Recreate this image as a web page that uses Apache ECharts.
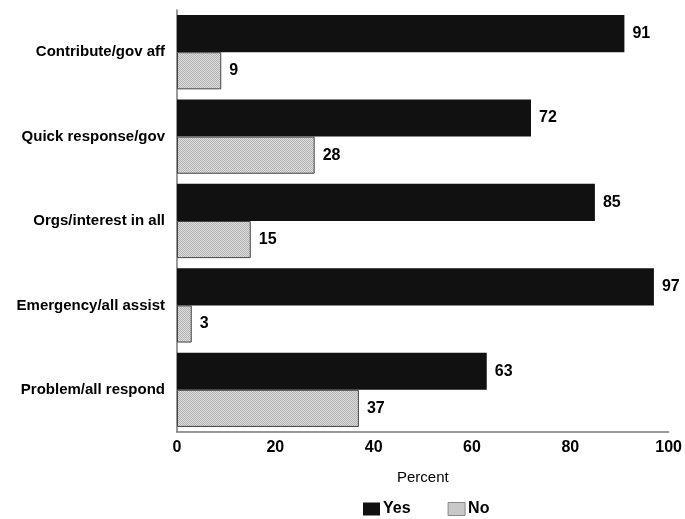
<!DOCTYPE html>
<html><head><meta charset="utf-8">
<script src="https://cdn.jsdelivr.net/npm/echarts@6/dist/echarts.min.js"></script>
<style>html,body{margin:0;padding:0;background:#fff}#c{width:685px;height:519px}</style>
</head><body><div id="c"></div>
<script>
const categories = ["Contribute/gov aff","Quick response/gov","Orgs/interest in all","Emergency/all assist","Problem/all respond"];
const yesValues = [91,72,85,97,63];
const noValues = [9,28,15,3,37];
const xTicks = [0,20,40,60,80,100];

// fine dotted texture for the "No" bars
const pc = document.createElement('canvas');
pc.width = 2; pc.height = 2;
const px = pc.getContext('2d');
px.fillStyle = '#dcdcdc'; px.fillRect(0,0,2,2);
px.fillStyle = '#b4b4b4'; px.fillRect(0,0,1,1); px.fillRect(1,1,1,1);
const pattern = {image: pc, repeat: 'repeat'};

const chart = echarts.init(document.getElementById('c'));
const font = 'Liberation Sans, Arial, sans-serif';
chart.setOption({
  animation:false,
  grid:{left:177,right:15,top:10,bottom:87},
  legend:{
    data:[{name:'Yes',itemStyle:{color:'#111',borderWidth:0}},{name:'No',itemStyle:{color:pattern,borderColor:'#888',borderWidth:1}}],
    left:358, top:496, itemWidth:17, itemHeight:13, itemGap:37,
    icon:'rect',
    textStyle:{fontFamily:font,fontWeight:'bold',fontSize:16,color:'#000',padding:[0,0,0,-2]}
  },
  xAxis:{
    type:'value', min:xTicks[0], max:xTicks[xTicks.length-1], interval:20,
    name:'Percent', nameLocation:'middle', nameGap:38,
    nameTextStyle:{fontFamily:font,fontSize:15,color:'#000'},
    axisLine:{show:true,lineStyle:{color:'#777',width:1.5}},
    axisTick:{show:false}, splitLine:{show:false},
    axisLabel:{fontFamily:font,fontWeight:'bold',fontSize:16,color:'#000',margin:8}
  },
  yAxis:{
    type:'category', data:categories, inverse:true,
    axisLine:{show:true,lineStyle:{color:'#777',width:1.5}},
    axisTick:{show:false},
    axisLabel:{fontFamily:font,fontWeight:'bold',fontSize:15,color:'#000',margin:12}
  },
  series:[
    {name:'Yes',type:'bar',data:yesValues,barGap:'0%',barCategoryGap:'12%',
     itemStyle:{color:'#111'},
     label:{show:true,position:'right',distance:8,fontFamily:font,fontWeight:'bold',fontSize:16,color:'#000'}},
    {name:'No',type:'bar',data:noValues,barGap:'0%',barCategoryGap:'12%',
     itemStyle:{color:pattern,borderColor:'#444',borderWidth:1},
     label:{show:true,position:'right',distance:8,fontFamily:font,fontWeight:'bold',fontSize:16,color:'#000'}}
  ]
});
</script></body></html>
